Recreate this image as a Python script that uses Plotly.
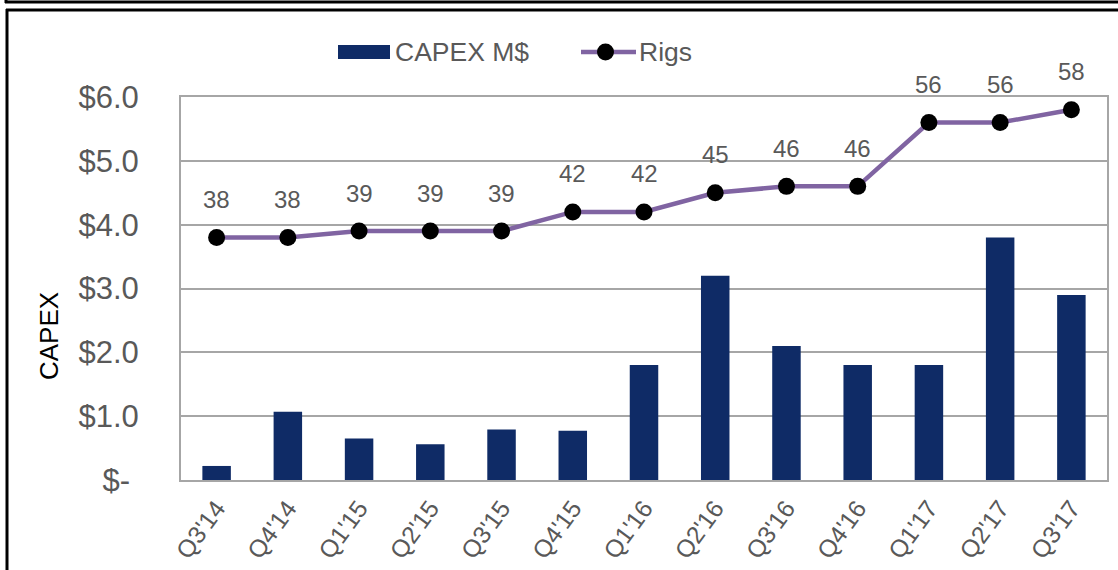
import plotly.graph_objects as go

quarters = ["Q3'14", "Q4'14", "Q1'15", "Q2'15", "Q3'15", "Q4'15", "Q1'16",
            "Q2'16", "Q3'16", "Q4'16", "Q1'17", "Q2'17", "Q3'17"]
capex = [0.22, 1.07, 0.65, 0.56, 0.79, 0.77, 1.80, 3.20, 2.10, 1.80, 1.80, 3.80, 2.90]
rigs = [38, 38, 39, 39, 39, 42, 42, 45, 46, 46, 56, 56, 58]
y_tickvals = [0, 1, 2, 3, 4, 5, 6]
y_ticktext = ["$-\u00a0", "$1.0", "$2.0", "$3.0", "$4.0", "$5.0", "$6.0"]

W, H = 1118, 570
L, R, T, B = 181, 1107, 97, 480
BAR_COLOR = "#0F2B66"
LINE_COLOR = "#8064A2"
GRID = "#A6A6A6"
TXT = "#595959"
FONT = "Liberation Sans, Arial, sans-serif"


def px(x):
    return (x - L) / (R - L)


def py(y):
    return (B - y) / (B - T)


fig = go.Figure()
fig.add_trace(go.Bar(x=quarters, y=capex, name="CAPEX M$", marker_color=BAR_COLOR,
                     marker_line_width=0, width=0.4, showlegend=False))
fig.add_trace(go.Scatter(x=quarters, y=rigs, name="Rigs", yaxis="y2", mode="lines+markers",
                         line=dict(color=LINE_COLOR, width=4.5),
                         marker=dict(color="black", size=17), showlegend=False,
                         cliponaxis=False))

annotations = []
for q, r in zip(quarters, rigs):
    annotations.append(dict(x=q, y=r, xref="x", yref="y2", text=str(r), showarrow=False,
                            xanchor="center", yanchor="middle",
                            yshift=38, font=dict(size=24, color=TXT, family=FONT)))

# y-axis title
annotations.append(dict(x=px(49), y=py(336), xref="paper", yref="paper", text="CAPEX",
                        textangle=-90, showarrow=False, xanchor="center", yanchor="middle",
                        font=dict(size=26, color="black", family=FONT)))
# legend texts
annotations.append(dict(x=px(393), y=py(52), xref="paper", yref="paper", text="CAPEX M$",
                        xanchor="left", yanchor="middle", showarrow=False,
                        font=dict(size=26.5, color=TXT, family=FONT)))
annotations.append(dict(x=px(637), y=py(52), xref="paper", yref="paper", text="Rigs",
                        xanchor="left", yanchor="middle", showarrow=False,
                        font=dict(size=26.5, color=TXT, family=FONT)))

shapes = [
    # legend symbols
    dict(type="rect", xref="paper", yref="paper", x0=px(338), x1=px(390), y0=py(45), y1=py(59),
         fillcolor=BAR_COLOR, line_width=0),
    dict(type="line", xref="paper", yref="paper", x0=px(581), x1=px(636), y0=py(52), y1=py(52),
         line=dict(color=LINE_COLOR, width=4.5)),
    dict(type="circle", xref="paper", yref="paper", x0=px(597), x1=px(614), y0=py(43.5), y1=py(60.5),
         fillcolor="black", line_width=0),
    # outer frames
    dict(type="line", xref="paper", yref="paper", x0=px(5), x1=px(1120), y0=py(2), y1=py(2),
         line=dict(color="black", width=3)),
    dict(type="line", xref="paper", yref="paper", x0=px(6), x1=px(6), y0=py(-2), y1=py(3),
         line=dict(color="black", width=3)),
    dict(type="line", xref="paper", yref="paper", x0=px(6), x1=px(1120), y0=py(10), y1=py(10),
         line=dict(color="black", width=3)),
    dict(type="line", xref="paper", yref="paper", x0=px(7), x1=px(7), y0=py(9), y1=py(575),
         line=dict(color="black", width=3)),
]

fig.update_layout(
    width=W, height=H,
    margin=dict(l=L, r=W - R, t=T, b=H - B, pad=0, autoexpand=False),
    paper_bgcolor="white", plot_bgcolor="white",
    font=dict(family=FONT, color=TXT),
    showlegend=False,
    xaxis=dict(range=[-0.5, len(quarters) - 0.5], showgrid=False, showline=True,
               linecolor=GRID, linewidth=2, mirror=True, automargin=False,
               tickangle=-54, tickfont=dict(size=24.5, color=TXT, family=FONT), ticks="",
               ticklabelstandoff=2, zeroline=False),
    yaxis=dict(range=[0, 6], tickvals=y_tickvals, ticktext=y_ticktext, showgrid=True,
               gridcolor=GRID, gridwidth=2, showline=True, linecolor=GRID, linewidth=2,
               mirror=True, zeroline=False, ticks="", ticklabelstandoff=34, automargin=False,
               tickfont=dict(size=31, color=TXT, family=FONT)),
    yaxis2=dict(range=[0, 60], overlaying="y", side="right", visible=False),
    annotations=annotations,
    shapes=shapes,
)

fig.write_html("out.html", config={"displayModeBar": False},
               post_script="document.body.style.margin='0';document.body.style.overflow='hidden';")
